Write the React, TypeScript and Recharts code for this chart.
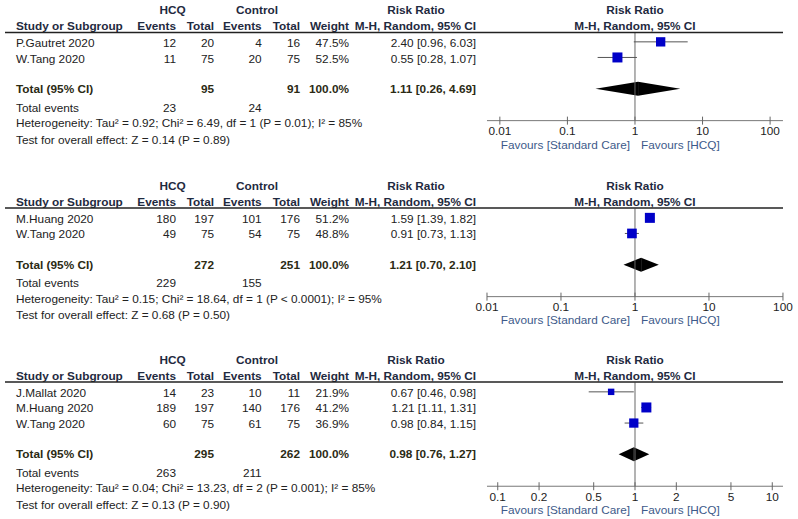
import React from "react";
import { ComposedChart, Scatter, XAxis, YAxis, ReferenceLine, ReferenceArea } from "recharts";

// ---- data ----
const studiesA = [
  { name: "P.Gautret 2020", hcqE: 12, hcqN: 20, ctlE: 4, ctlN: 16, weight: 47.5, rr: 2.4, lo: 0.96, hi: 6.03 },
  { name: "W.Tang 2020", hcqE: 11, hcqN: 75, ctlE: 20, ctlN: 75, weight: 52.5, rr: 0.55, lo: 0.28, hi: 1.07 },
];
const totalA = {
  hcqN: 95, ctlN: 91, hcqE: 23, ctlE: 24, rr: 1.11, lo: 0.26, hi: 4.69,
  het: "Heterogeneity: Tau² = 0.92; Chi² = 6.49, df = 1 (P = 0.01); I² = 85%",
  test: "Test for overall effect: Z = 0.14 (P = 0.89)",
};
const ticksA = [0.01, 0.1, 1, 10, 100];

const studiesB = [
  { name: "M.Huang 2020", hcqE: 180, hcqN: 197, ctlE: 101, ctlN: 176, weight: 51.2, rr: 1.59, lo: 1.39, hi: 1.82 },
  { name: "W.Tang 2020", hcqE: 49, hcqN: 75, ctlE: 54, ctlN: 75, weight: 48.8, rr: 0.91, lo: 0.73, hi: 1.13 },
];
const totalB = {
  hcqN: 272, ctlN: 251, hcqE: 229, ctlE: 155, rr: 1.21, lo: 0.7, hi: 2.1,
  het: "Heterogeneity: Tau² = 0.15; Chi² = 18.64, df = 1 (P < 0.0001); I² = 95%",
  test: "Test for overall effect: Z = 0.68 (P = 0.50)",
};
const ticksB = [0.01, 0.1, 1, 10, 100];

const studiesC = [
  { name: "J.Mallat 2020", hcqE: 14, hcqN: 23, ctlE: 10, ctlN: 11, weight: 21.9, rr: 0.67, lo: 0.46, hi: 0.98 },
  { name: "M.Huang 2020", hcqE: 189, hcqN: 197, ctlE: 140, ctlN: 176, weight: 41.2, rr: 1.21, lo: 1.11, hi: 1.31 },
  { name: "W.Tang 2020", hcqE: 60, hcqN: 75, ctlE: 61, ctlN: 75, weight: 36.9, rr: 0.98, lo: 0.84, hi: 1.15 },
];
const totalC = {
  hcqN: 295, ctlN: 262, hcqE: 263, ctlE: 211, rr: 0.98, lo: 0.76, hi: 1.27,
  het: "Heterogeneity: Tau² = 0.04; Chi² = 13.23, df = 2 (P = 0.001); I² = 85%",
  test: "Test for overall effect: Z = 0.13 (P = 0.90)",
};
const ticksC = [0.1, 0.2, 0.5, 1, 2, 5, 10];

// ---- layout ----
const FONT = '"Liberation Sans", Arial, sans-serif';
const FS = 11.8;
const PITCH = 15.6;
const RULE = 32.5;
const TEXT = "#222";
const HEAD = "#1f2a40";
const TOTAL_COL = "#2b2a14";
const FAV = "#3d5a8a";

type Study = (typeof studiesA)[number];
type Total = typeof totalA;

const fmtRR = (rr: number, lo: number, hi: number) =>
  `${rr.toFixed(2)} [${lo.toFixed(2)}, ${hi.toFixed(2)}]`;

function LogTick(props: any) {
  const { x, y, payload } = props;
  return (
    <g>
      <line x1={x} x2={x} y1={y - 4} y2={y + 4} stroke="#666" />
      <text x={x} y={y + 10} textAnchor="middle" dominantBaseline="central" fontSize={FS} fontFamily={FONT} fill={TEXT}>
        {String(payload.value)}
      </text>
    </g>
  );
}

const leftHalf = (p: any) => (
  <polygon points={`${p.x},${p.y + p.height / 2} ${p.x + p.width},${p.y} ${p.x + p.width},${p.y + p.height}`} fill="#000" />
);
const rightHalf = (p: any) => (
  <polygon points={`${p.x},${p.y} ${p.x + p.width},${p.y + p.height / 2} ${p.x},${p.y + p.height}`} fill="#000" />
);

function T({ x, y, children, anchor = "start", bold = false, fill = TEXT }: any) {
  return (
    <text x={x} y={y} textAnchor={anchor} dominantBaseline="central" fontSize={FS} fontFamily={FONT}
      fontWeight={bold ? "bold" : "normal"} fill={fill}>
      {children}
    </text>
  );
}

function ForestPanel({ top, studies, total, ticks, domain }: {
  top: number; studies: Study[]; total: Total; ticks: number[]; domain: [number, number];
}) {
  const n = studies.length;
  const yMax = n + 4.05;
  const plotH = (yMax - 0.4) * PITCH;
  const maxW = Math.max(...studies.map((s) => s.weight));
  const points = studies.map((s, i) => ({ x: s.rr, y: i + 1, weight: s.weight }));
  const totalRow = n + 2;

  const square = (p: any) => {
    const side = 10 * Math.pow(p.payload.weight / maxW, 0.7);
    return <rect x={p.cx - side / 2} y={p.cy - side / 2} width={side} height={side} fill="#0000c8" />;
  };

  return (
    <div style={{ position: "absolute", left: 0, top }}>
      <ComposedChart width={798} height={RULE + plotH + 30} margin={{ top: RULE, right: 15, bottom: 0, left: 487 }}>
        <XAxis type="number" dataKey="x" scale="log" domain={domain} ticks={ticks} allowDataOverflow interval={0}
          height={30} tickSize={0} tickMargin={0} tickLine={false} axisLine={{ stroke: "#777" }} tick={<LogTick />} />
        <YAxis type="number" dataKey="y" domain={[0.4, yMax]} reversed hide width={0} allowDataOverflow />
        <ReferenceLine x={1} stroke="#666" />
        {studies.map((s, i) => (
          <ReferenceLine key={s.name} segment={[{ x: s.lo, y: i + 1 }, { x: s.hi, y: i + 1 }]} stroke="#555" />
        ))}
        <ReferenceArea x1={total.lo} x2={total.rr} y1={totalRow - 0.45} y2={totalRow + 0.45} shape={leftHalf} />
        <ReferenceArea x1={total.rr} x2={total.hi} y1={totalRow - 0.45} y2={totalRow + 0.45} shape={rightHalf} />
        <Scatter data={points} isAnimationActive={false} shape={square} />
      </ComposedChart>
    </div>
  );
}

function PanelText({ top, studies, total }: { top: number; studies: Study[]; total: Total }) {
  const n = studies.length;
  const rowY = (r: number) => top + RULE + (r - 0.4) * PITCH;
  const totY = rowY(n + 2) + 0.5;
  const axisY = top + RULE + (n + 3.65) * PITCH;
  return (
    <g>
      <T x={172.7} y={top + 10} anchor="middle" bold fill={HEAD}>HCQ</T>
      <T x={257} y={top + 10} anchor="middle" bold fill={HEAD}>Control</T>
      <T x={416} y={top + 10} anchor="middle" bold fill={HEAD}>Risk Ratio</T>
      <T x={635} y={top + 10} anchor="middle" bold fill={HEAD}>Risk Ratio</T>

      <T x={16} y={top + 26} bold fill={HEAD}>Study or Subgroup</T>
      <T x={176} y={top + 26} anchor="end" bold fill={HEAD}>Events</T>
      <T x={214} y={top + 26} anchor="end" bold fill={HEAD}>Total</T>
      <T x={261.7} y={top + 26} anchor="end" bold fill={HEAD}>Events</T>
      <T x={300} y={top + 26} anchor="end" bold fill={HEAD}>Total</T>
      <T x={349} y={top + 26} anchor="end" bold fill={HEAD}>Weight</T>
      <T x={476} y={top + 26} anchor="end" bold fill={HEAD}>M-H, Random, 95% CI</T>
      <T x={635} y={top + 26} anchor="middle" bold fill={HEAD}>M-H, Random, 95% CI</T>
      <line x1={5} x2={783} y1={top + RULE} y2={top + RULE} stroke="#222" strokeWidth={1.5} />

      {studies.map((s, i) => {
        const y = rowY(i + 1) + 1.5;
        return (
          <g key={s.name}>
            <T x={16} y={y}>{s.name}</T>
            <T x={176} y={y} anchor="end">{s.hcqE}</T>
            <T x={214} y={y} anchor="end">{s.hcqN}</T>
            <T x={261.7} y={y} anchor="end">{s.ctlE}</T>
            <T x={300} y={y} anchor="end">{s.ctlN}</T>
            <T x={349} y={y} anchor="end">{`${s.weight.toFixed(1)}%`}</T>
            <T x={476} y={y} anchor="end">{fmtRR(s.rr, s.lo, s.hi)}</T>
          </g>
        );
      })}

      <T x={16} y={totY} bold fill={TOTAL_COL}>Total (95% CI)</T>
      <T x={214} y={totY} anchor="end" bold fill={TOTAL_COL}>{total.hcqN}</T>
      <T x={300} y={totY} anchor="end" bold fill={TOTAL_COL}>{total.ctlN}</T>
      <T x={349} y={totY} anchor="end" bold fill={TOTAL_COL}>100.0%</T>
      <T x={476} y={totY} anchor="end" bold fill={TOTAL_COL}>{fmtRR(total.rr, total.lo, total.hi)}</T>

      <T x={16} y={totY + 18.5}>Total events</T>
      <T x={176} y={totY + 18.5} anchor="end">{total.hcqE}</T>
      <T x={261.7} y={totY + 18.5} anchor="end">{total.ctlE}</T>
      <T x={16} y={totY + 34}>{total.het}</T>
      <T x={16} y={totY + 50.5}>{total.test}</T>

      <T x={630} y={axisY + 24} anchor="end" fill={FAV}>Favours [Standard Care]</T>
      <T x={641} y={axisY + 24} fill={FAV}>Favours [HCQ]</T>
    </g>
  );
}

export default function App() {
  return (
    <div style={{ position: "absolute", left: 0, top: 0, width: 798, height: 519, background: "#fff" }}>
      <ForestPanel top={0} studies={studiesA} total={totalA} ticks={ticksA} domain={[0.00645, 155]} />
      <ForestPanel top={175.5} studies={studiesB} total={totalB} ticks={ticksB} domain={[0.01, 100]} />
      <ForestPanel top={349.5} studies={studiesC} total={totalC} ticks={ticksC} domain={[0.0835, 11.97]} />
      <svg width={798} height={519} style={{ position: "absolute", left: 0, top: 0, pointerEvents: "none" }}>
        <PanelText top={0} studies={studiesA} total={totalA} />
        <PanelText top={175.5} studies={studiesB} total={totalB} />
        <PanelText top={349.5} studies={studiesC} total={totalC} />
      </svg>
    </div>
  );
}
